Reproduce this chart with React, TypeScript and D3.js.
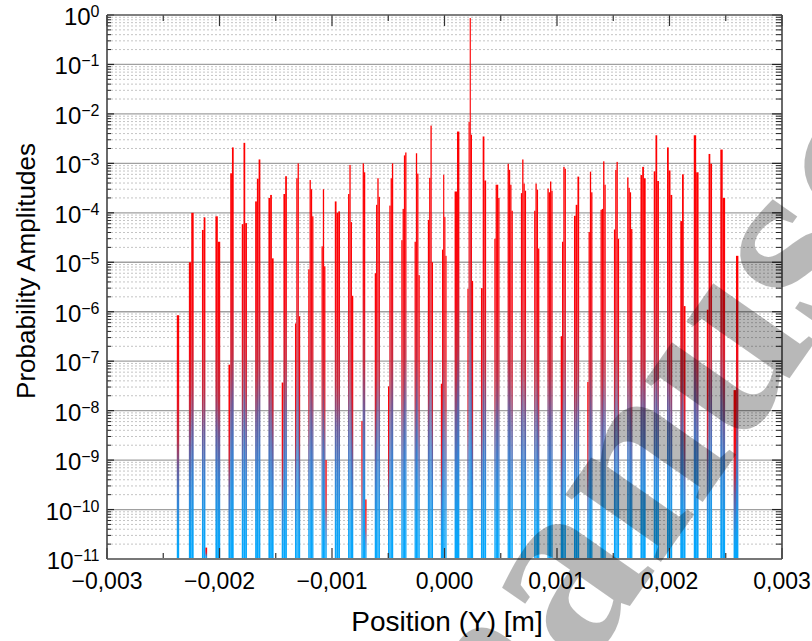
import React from 'react';
import * as d3 from 'd3';

// Cluster centre positions (m)
const positions: number[] = [
  -0.002369, -0.002251, -0.002133, -0.002015, -0.001897, -0.001779, -0.00166, -0.001542,
  -0.001424, -0.001306, -0.001188, -0.00107, -0.000952, -0.000834, -0.000716, -0.000597,
  -0.000479, -0.000361, -0.000243, -0.000125, -0.000007, 0.000111, 0.000229, 0.000347,
  0.000466, 0.000584, 0.000702, 0.00082, 0.000938, 0.001056, 0.001174, 0.001292,
  0.00141, 0.001529, 0.001647, 0.001765, 0.001883, 0.002001, 0.002119, 0.002237,
  0.002355, 0.002473, 0.002591,
];

// Probability amplitudes of the sub-bars in each cluster (left to right)
const amplitudes: number[][] = [
  [8.5e-7],
  [1.0e-5, 1.0e-4],
  [4.5e-5, 8.1e-5, 1.7e-11],
  [8.5e-5, 2.6e-5],
  [8.5e-8, 6.3e-4, 2.1e-3],
  [5.9e-5, 2.6e-3, 6.2e-5],
  [1.7e-4, 4.9e-4, 1.2e-3],
  [2.0e-4, 2.3e-4, 1.2e-5],
  [3.7e-8, 2.4e-4, 5.5e-4],
  [5.8e-7, 5.0e-4, 1.0e-3, 8.1e-7],
  [7.2e-6, 4.6e-4, 3.0e-4, 8.5e-5],
  [2.1e-5, 3.0e-4, 8.3e-6, 1.0e-9],
  [1.7e-4, 1.0e-4, 1.07e-4],
  [2.4e-4, 9.3e-4, 6.5e-5, 2.1e-6],
  [6.2e-9, 1.0e-3, 6.6e-4, 1.6e-10],
  [6.0e-6, 1.45e-4, 5.0e-4, 2.1e-4],
  [3.1e-8, 1.4e-4, 5.0e-4, 1.0e-3],
  [2.8e-5, 1.2e-4, 1.45e-3, 1.66e-3],
  [2.6e-5, 1.6e-3, 6.2e-4, 5.5e-6],
  [7.2e-5, 5.1e-4, 5.8e-3, 1.0e-5],
  [3.5e-8, 1.8e-5, 5.9e-4, 8.3e-5, 1.35e-5],
  [2.7e-4, 4.4e-3],
  [2.9e-6, 6.9e-3, 0.87, 3.8e-3, 4.2e-6],
  [3.0e-6, 3.5e-3, 4.5e-4],
  [3.0e-5, 3.7e-4, 3.7e-4, 2.0e-4],
  [9.8e-4, 7.4e-4, 3.7e-4, 1.1e-4],
  [2.5e-4, 1.2e-3, 3.9e-4, 2.8e-4],
  [1.1e-4, 3.9e-4, 2.95e-4, 1.9e-5],
  [3.1e-4, 2.6e-4, 4.3e-4, 2.8e-4],
  [3.2e-7, 2.6e-5, 8.5e-4, 7.8e-4],
  [8.7e-5, 1.45e-4, 5.4e-4],
  [3.8e-8, 4.1e-5, 6.8e-4, 2.6e-4],
  [1.15e-4, 1.2e-4, 1.1e-3, 3.7e-4],
  [4.6e-5, 7.4e-4, 1.07e-3, 3.0e-5],
  [5.2e-4, 3.2e-4, 2.6e-4, 4.7e-5],
  [5.8e-4, 8.5e-4, 5.0e-4],
  [6.9e-4, 3.7e-3, 4.4e-4],
  [2.1e-3, 7.2e-4, 2.3e-4],
  [6.8e-5, 6.0e-4, 1.3e-6],
  [3.7e-3, 6.6e-4],
  [1.1e-6, 1.55e-3, 9.8e-4],
  [1.9e-3, 2.0e-4],
  [2.6e-8, 1.35e-5],
];

const xTickValues: number[] = [-0.003, -0.002, -0.001, 0, 0.001, 0.002, 0.003];
const xTickLabels: string[] = ['−0,003', '−0,002', '−0,001', '0,000', '0,001', '0,002', '0,003'];
const yExponents: number[] = [0, -1, -2, -3, -4, -5, -6, -7, -8, -9, -10, -11];
const xTitle = 'Position (Y) [m]';
const yTitle = 'Probability Amplitudes';
const watermark = 'manuscript';

export default function App() {
  const W = 812, H = 641;
  const L = 107, R = 782, T = 15, B = 559;
  const x = d3.scaleLinear().domain([-0.003, 0.003]).range([L, R]);
  const y = d3.scaleLog().domain([1e-11, 1]).range([B, T]);

  const minorY: number[] = [];
  for (let d = -11; d < 0; d++) {
    for (let k = 2; k <= 9; k++) minorY.push(k * Math.pow(10, d));
  }
  const majorY = yExponents.map((e) => Math.pow(10, e));
  const xTicksAll = d3.range(-0.003, 0.0030001, 0.0005);

  const font = 'Liberation Sans, Arial, Helvetica, sans-serif';

  const bars: React.ReactNode[] = [];
  positions.forEach((p, ci) => {
    const vals = amplitudes[ci];
    const n = vals.length;
    const w = Math.max(1.15, Math.min(2.4, 5.2 / n));
    const x0 = x(p) - (w * n) / 2;
    vals.forEach((v, i) => {
      const top = y(v);
      bars.push(
        <rect key={`b${ci}-${i}`} x={x0 + i * w} y={top} width={w} height={B - top} fill="url(#barGrad)" />
      );
    });
  });

  return (
    <svg width={W} height={H} style={{ position: 'absolute', left: 0, top: 0, background: '#fff' }}>
      <defs>
        <linearGradient id="barGrad" x1="0" y1="0" x2="0" y2="1">
          <stop offset="0" stopColor="#ff0000" />
          <stop offset="0.3" stopColor="#f70812" />
          <stop offset="0.5" stopColor="#c42a40" />
          <stop offset="0.62" stopColor="#6c5a98" />
          <stop offset="0.75" stopColor="#3a80d0" />
          <stop offset="0.9" stopColor="#12a0f2" />
          <stop offset="1" stopColor="#00a8ff" />
        </linearGradient>
        <clipPath id="plotClip">
          <rect x={L} y={T} width={R - L} height={B - T} />
        </clipPath>
      </defs>

      {/* minor grid */}
      {minorY.map((v, i) => (
        <line key={`mg${i}`} x1={L} x2={R} y1={y(v)} y2={y(v)} stroke="#c4c4c4" strokeWidth={1} strokeDasharray="2,2" />
      ))}
      {/* major grid */}
      {majorY.slice(1, -1).map((v, i) => (
        <line key={`Mg${i}`} x1={L} x2={R} y1={y(v)} y2={y(v)} stroke="#a0a0a0" strokeWidth={1.3} />
      ))}

      <g clipPath="url(#plotClip)">{bars}</g>

      {/* y ticks */}
      {minorY.map((v, i) => (
        <g key={`myt${i}`}>
          <line x1={L} x2={L + 4} y1={y(v)} y2={y(v)} stroke="#222" strokeWidth={1} />
          <line x1={R} x2={R - 6} y1={y(v)} y2={y(v)} stroke="#222" strokeWidth={1} />
        </g>
      ))}
      {majorY.map((v, i) => (
        <g key={`Myt${i}`}>
          <line x1={L} x2={L + 7} y1={y(v)} y2={y(v)} stroke="#222" strokeWidth={1.2} />
          <line x1={R} x2={R - 10} y1={y(v)} y2={y(v)} stroke="#222" strokeWidth={1.2} />
        </g>
      ))}
      {/* x ticks */}
      {xTicksAll.map((v, i) => {
        const major = i % 2 === 0;
        const len = major ? 11 : 6;
        return (
          <g key={`xt${i}`}>
            <line x1={x(v)} x2={x(v)} y1={B} y2={B - len} stroke="#333" strokeWidth={1.2} />
            <line x1={x(v)} x2={x(v)} y1={T} y2={T + len} stroke="#333" strokeWidth={1.2} />
          </g>
        );
      })}

      {/* frame */}
      <line x1={L} x2={R} y1={T} y2={T} stroke="#555" strokeWidth={1.6} />
      <line x1={L} x2={R} y1={B} y2={B} stroke="#777" strokeWidth={2} />
      <line x1={L} x2={L} y1={T} y2={B} stroke="#444" strokeWidth={1.6} />
      <line x1={R} x2={R} y1={T} y2={B} stroke="#444" strokeWidth={1.6} />

      {/* y tick labels */}
      {yExponents.map((e) => (
        <text key={`yl${e}`} x={99.5} y={y(Math.pow(10, e)) + 10} textAnchor="end" fontFamily={font} fontSize={24} fill="#000">
          10
          <tspan fontSize={16} dy={-8}>{e === 0 ? '0' : `−${-e}`}</tspan>
        </text>
      ))}

      {/* x tick labels */}
      {xTickValues.map((v, i) => (
        <text key={`xl${i}`} x={x(v)} y={589} textAnchor="middle" fontFamily={font} fontSize={23} fill="#000">
          {xTickLabels[i]}
        </text>
      ))}

      {/* titles */}
      <text x={447} y={631} textAnchor="middle" fontFamily={font} fontSize={28} fill="#000">{xTitle}</text>
      <text transform="translate(35,271) rotate(-90)" textAnchor="middle" fontFamily={font} fontSize={26} fill="#000">{yTitle}</text>

      {/* watermark */}
      <text transform="translate(462,846) rotate(-55)" fontFamily="Liberation Serif, Times New Roman, serif" fontWeight="bold" fontSize={255} fill="#000" fillOpacity={0.28}>
        {watermark}
      </text>
    </svg>
  );
}
